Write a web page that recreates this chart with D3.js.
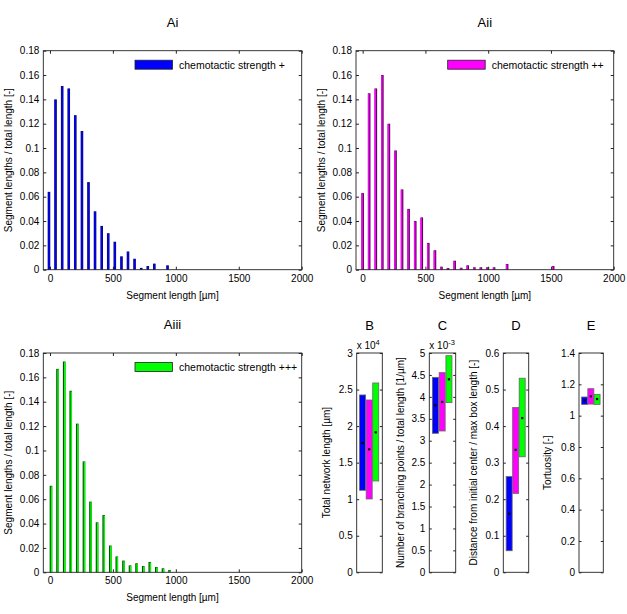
<!DOCTYPE html>
<html>
<head>
<meta charset="utf-8">
<script src="https://cdn.jsdelivr.net/npm/d3@7"></script>
<style>
  body { margin: 0; background: #fff; }
  svg { font-family: "Liberation Sans", Arial, sans-serif; }
  .tick text { font-size: 10px; fill: #000; }
  .tick line { stroke: #222; }
</style>
</head>
<body>
<script>
// bin centres of the segment length histograms [µm]
const binCenters = [0, 52, 105, 157, 209, 262, 314, 366, 419, 471, 523, 576, 628, 680, 733,
                    785, 837, 890, 942, 994, 1047, 1099, 1151, 1204, 1256, 1308, 1361, 1413, 1465, 1518];

// fraction of total length per bin
const histPlus = [0.064, 0.140, 0.151, 0.149, 0.127, 0.114, 0.072, 0.048, 0.036, 0.030, 0.023,
                  0.011, 0.015, 0.009, 0.0015, 0.003, 0.005, 0, 0.0036];
const histPlusPlus = [0.063, 0.145, 0.149, 0.160, 0.120, 0.098, 0.066, 0.050, 0.040, 0.043, 0.022,
                      0.016, 0.0025, 0.0014, 0.0074, 0.0016, 0.0036, 0.002, 0.002, 0.002, 0.002,
                      0, 0.0047, 0, 0, 0, 0, 0, 0, 0.003];
const histPlusPlusPlus = [0.071, 0.167, 0.173, 0.149, 0.122, 0.091, 0.058, 0.041, 0.047, 0.022,
                          0.013, 0.0096, 0.0057, 0.0074, 0.0052, 0.0085, 0.0044, 0.0033, 0.0019];

const histYTicks = [0, 0.02, 0.04, 0.06, 0.08, 0.1, 0.12, 0.14, 0.16, 0.18];
const histXTicks = [0, 500, 1000, 1500, 2000];

// summary panels B-E: [+, ++, +++]
const groups = [1, 2, 3];
const lengthLow = [11220, 10030, 12490];
const lengthHigh = [24260, 23570, 25900];
const lengthMean = [17690, 16830, 19150];

const branchLow = [3.169e-3, 3.222e-3, 3.868e-3];
const branchHigh = [4.445e-3, 4.552e-3, 4.939e-3];
const branchMean = [3.807e-3, 3.883e-3, 4.40e-3];

const distLow = [0.059, 0.216, 0.316];
const distHigh = [0.262, 0.451, 0.531];
const distMean = [0.160, 0.335, 0.422];

const tortLow = [1.072, 1.074, 1.072];
const tortHigh = [1.119, 1.172, 1.136];
const tortMean = [1.098, 1.123, 1.106];

const colors = ["#0000ff", "#ff00ff", "#00ff00"];

const svg = d3.select("body").append("svg")
  .attr("width", 627)
  .attr("height", 614);

const AXIS = "#222";

//HISTOGRAM PANEL
function histPanel(o) {
  const x = d3.scaleLinear().domain([-53, 2000]).range([o.left, o.right]);
  const y = d3.scaleLinear().domain([0, 0.18]).range([o.bottom, o.top]);
  const g = svg.append("g");

  g.append("g").attr("transform", `translate(${o.left},0)`)
    .call(d3.axisLeft(y).tickValues(histYTicks).tickFormat(d3.format("")).tickSize(-3).tickSizeOuter(0).tickPadding(4))
    .call(a => a.select(".domain").remove());
  g.append("g").attr("transform", `translate(${o.right},0)`)
    .call(d3.axisRight(y).tickValues(histYTicks).tickFormat("").tickSize(-3).tickSizeOuter(0))
    .call(a => a.select(".domain").remove());
  g.append("g").attr("transform", `translate(0,${o.bottom})`)
    .call(d3.axisBottom(x).tickValues(histXTicks).tickFormat(d3.format("")).tickSize(-3).tickSizeOuter(0).tickPadding(5))
    .call(a => a.select(".domain").remove());
  g.append("g").attr("transform", `translate(0,${o.top})`)
    .call(d3.axisTop(x).tickValues(histXTicks).tickFormat("").tickSize(-3).tickSizeOuter(0))
    .call(a => a.select(".domain").remove());

  const data = o.values.map((v, i) => ({ x: binCenters[i], v }));
  const bars = g.append("g").selectAll("g").data(data.filter(d => d.v > 0)).join("g");
  bars.append("rect")
    .attr("x", d => x(d.x) + o.shift - 1.3)
    .attr("width", 2.6)
    .attr("y", d => y(d.v))
    .attr("height", d => y(0) - y(d.v))
    .attr("fill", o.dark);
  bars.append("rect")
    .attr("x", d => x(d.x) + o.shift - 1.3 + o.lightOffset)
    .attr("width", 1.5)
    .attr("y", d => y(d.v) + 0.6)
    .attr("height", d => Math.max(0, y(0) - y(d.v) - 0.6))
    .attr("fill", o.color);

  g.append("rect")
    .attr("x", o.left).attr("y", o.top)
    .attr("width", o.right - o.left).attr("height", o.bottom - o.top)
    .attr("fill", "none").attr("stroke", AXIS).attr("stroke-width", 0.9);

  // legend
  g.append("rect")
    .attr("x", o.legX).attr("y", o.top + 9.5)
    .attr("width", 37.5).attr("height", 9)
    .attr("fill", o.color).attr("stroke", "#222").attr("stroke-width", 0.8);
  g.append("text")
    .attr("x", o.legX + 44).attr("y", o.top + 18)
    .attr("font-size", 10.5).text(o.legend);

  g.append("text")
    .attr("x", (o.left + o.right) / 2).attr("y", o.top - 24)
    .attr("text-anchor", "middle").attr("font-size", 13).text(o.title);
  g.append("text")
    .attr("x", (o.left + o.right) / 2).attr("y", o.bottom + 29)
    .attr("text-anchor", "middle").attr("font-size", 10).text("Segment length [µm]");
  g.append("text")
    .attr("transform", `translate(${o.ylabX},${(o.top + o.bottom) / 2}) rotate(-90)`)
    .attr("text-anchor", "middle").attr("font-size", 10).text("Segment lengths / total length [-]");
}

histPanel({ left: 43.3, right: 301.7, top: 50.7, bottom: 269.7, values: histPlus,
  color: colors[0], dark: "#0a0a5c", shift: -1, lightOffset: 0.55,
  legend: "chemotactic strength +", legX: 135, title: "Ai", ylabX: 12 });
histPanel({ left: 356, right: 613.7, top: 50.7, bottom: 269.7, values: histPlusPlus,
  color: colors[1], dark: "#560a56", shift: 0, lightOffset: 0,
  legend: "chemotactic strength ++", legX: 447.7, title: "Aii", ylabX: 325 });
histPanel({ left: 43.3, right: 301.7, top: 353, bottom: 572.3, values: histPlusPlusPlus,
  color: colors[2], dark: "#0a4e0a", shift: 1, lightOffset: 1.1,
  legend: "chemotactic strength +++", legX: 135, title: "Aiii", ylabX: 12 });

//SUMMARY PANELS
function rangePanel(o) {
  const x = d3.scaleLinear().domain([0.1, 4]).range([o.left, o.right]);
  const y = d3.scaleLinear().domain([0, o.max]).range([572.3, 353]);
  const g = svg.append("g");

  g.append("g").attr("transform", `translate(${o.left},0)`)
    .call(d3.axisLeft(y).tickValues(o.ticks).tickFormat(o.fmt).tickSize(-2.5).tickSizeOuter(0).tickPadding(4))
    .call(a => a.select(".domain").remove());
  g.append("g").attr("transform", `translate(${o.right},0)`)
    .call(d3.axisRight(y).tickValues(o.ticks).tickFormat("").tickSize(-2.5).tickSizeOuter(0))
    .call(a => a.select(".domain").remove());

  const data = groups.map((c, i) => ({ c, lo: o.low[i], hi: o.high[i], m: o.mean[i], col: colors[i] }));
  g.append("g").selectAll("rect").data(data).join("rect")
    .attr("x", d => x(d.c) - 3)
    .attr("width", 6)
    .attr("y", d => y(d.hi))
    .attr("height", d => y(d.lo) - y(d.hi))
    .attr("fill", d => d.col)
    .attr("stroke", "#666").attr("stroke-width", 0.8);
  g.append("g").selectAll("rect").data(data).join("rect")
    .attr("x", d => x(d.c) - 1.1)
    .attr("y", d => y(d.m) - 1.1)
    .attr("width", 2.2).attr("height", 2.2)
    .attr("fill", "#000");

  g.append("rect")
    .attr("x", o.left).attr("y", 353)
    .attr("width", o.right - o.left).attr("height", 572.3 - 353)
    .attr("fill", "none").attr("stroke", AXIS).attr("stroke-width", 0.9);

  g.append("text")
    .attr("x", (o.left + o.right) / 2).attr("y", 330)
    .attr("text-anchor", "middle").attr("font-size", 13).text(o.title);
  g.append("text")
    .attr("transform", `translate(${o.ylabX},${(353 + 572.3) / 2}) rotate(-90)`)
    .attr("text-anchor", "middle").attr("font-size", 10).text(o.ylabel);
  if (o.exp) {
    const t = g.append("text").attr("x", o.left).attr("y", 349).attr("font-size", 10);
    t.append("tspan").text("x 10");
    t.append("tspan").attr("dy", -4).attr("font-size", 7.5).text(o.exp);
  }
}

rangePanel({ left: 356.7, right: 382.3, max: 30000, ticks: [0, 5000, 10000, 15000, 20000, 25000, 30000],
  fmt: d => d3.format("")(d / 1e4), low: lengthLow, high: lengthHigh, mean: lengthMean,
  title: "B", ylabel: "Total network length [µm]", ylabX: 330, exp: "4" });
rangePanel({ left: 429.3, right: 455.7, max: 5e-3,
  ticks: [0, 0.5e-3, 1e-3, 1.5e-3, 2e-3, 2.5e-3, 3e-3, 3.5e-3, 4e-3, 4.5e-3, 5e-3],
  fmt: d => d3.format("")(Math.round(d * 1e4) / 10), low: branchLow, high: branchHigh, mean: branchMean,
  title: "C", ylabel: "Number of branching points / total length [1/µm]", ylabX: 404, exp: "-3" });
rangePanel({ left: 503.3, right: 528.7, max: 0.6, ticks: [0, 0.1, 0.2, 0.3, 0.4, 0.5, 0.6],
  fmt: d3.format(""), low: distLow, high: distHigh, mean: distMean,
  title: "D", ylabel: "Distance from initial center / max box length [-]", ylabX: 477 });
rangePanel({ left: 579, right: 603.3, max: 1.4, ticks: [0, 0.2, 0.4, 0.6, 0.8, 1, 1.2, 1.4],
  fmt: d3.format(""), low: tortLow, high: tortHigh, mean: tortMean,
  title: "E", ylabel: "Tortuosity [-]", ylabX: 551 });
</script>
</body>
</html>
